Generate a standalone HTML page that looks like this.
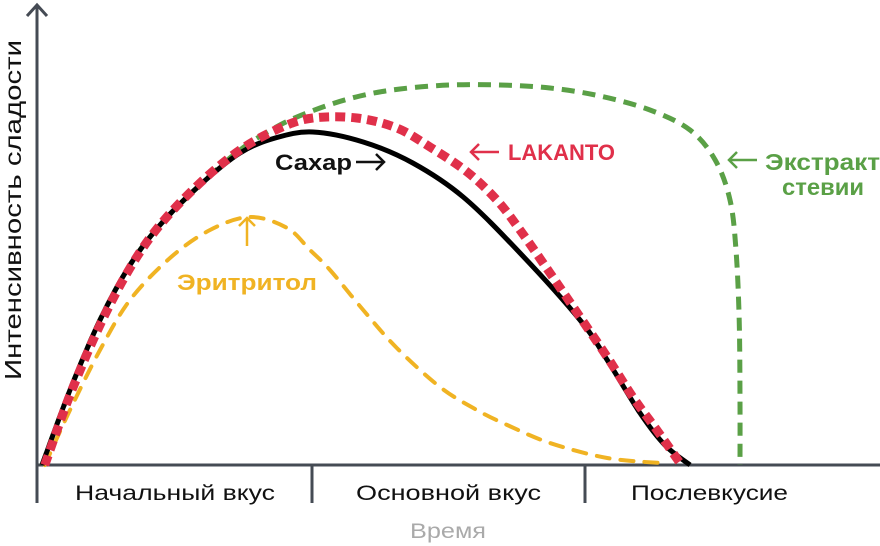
<!DOCTYPE html>
<html><head><meta charset="utf-8"><style>
html,body{margin:0;padding:0;background:#fff;}
svg{display:block;font-family:"Liberation Sans","DejaVu Sans",sans-serif;}
</style></head><body>
<svg id="chart" width="880" height="546" viewBox="0 0 880 546">
<g id="axes">
<line x1="37" y1="465" x2="37" y2="6" stroke="#454b54" stroke-width="3"/>
<polyline points="27,16 37,5 47,16" fill="none" stroke="#454b54" stroke-width="3"/>
<line x1="36" y1="465" x2="880" y2="465" stroke="#454b54" stroke-width="3"/>
<line x1="37" y1="465" x2="37" y2="503" stroke="#454b54" stroke-width="3"/>
<line x1="312" y1="465" x2="312" y2="503" stroke="#454b54" stroke-width="3"/>
<line x1="585" y1="465" x2="585" y2="503" stroke="#454b54" stroke-width="3"/>
<text x="75" y="500" font-size="21" textLength="200" lengthAdjust="spacingAndGlyphs" fill="#111">Начальный вкус</text>
<text x="356" y="500" font-size="21" textLength="185" lengthAdjust="spacingAndGlyphs" fill="#111">Основной вкус</text>
<text x="631" y="500" font-size="21" textLength="157" lengthAdjust="spacingAndGlyphs" fill="#111">Послевкусие</text>
<text x="410" y="538" font-size="21" textLength="76" lengthAdjust="spacingAndGlyphs" fill="#aaa">Время</text>
<text transform="translate(21,380) rotate(-90)" font-size="23" textLength="340" lengthAdjust="spacingAndGlyphs" fill="#111">Интенсивность сладости</text>
</g>
<g id="series"></g>
<g id="labels">
<text x="275" y="170" font-size="22" font-weight="bold" textLength="77" lengthAdjust="spacingAndGlyphs" fill="#111">Сахар</text>
<g fill="none" stroke="#111" stroke-width="2.5"><line x1="356" y1="162" x2="384" y2="162"/><polyline points="376,154 384,162 376,170"/></g>
<g fill="none" stroke="#e0304a" stroke-width="2.5"><line x1="471" y1="152" x2="499" y2="152"/><polyline points="479,144 471,152 479,160"/></g>
<text x="508" y="160" font-size="22" font-weight="bold" textLength="107" lengthAdjust="spacingAndGlyphs" fill="#e0304a">LAKANTO</text>
<g fill="none" stroke="#5aa046" stroke-width="2.5"><line x1="729" y1="160" x2="757" y2="160"/><polyline points="737,152 729,160 737,168"/></g>
<text x="765" y="170" font-size="23" font-weight="bold" textLength="115" lengthAdjust="spacingAndGlyphs" fill="#5aa046">Экстракт</text>
<text x="782" y="195" font-size="23" font-weight="bold" textLength="82" lengthAdjust="spacingAndGlyphs" fill="#5aa046">стевии</text>
<g fill="none" stroke="#f0b323" stroke-width="2.5"><line x1="247" y1="218" x2="247" y2="246"/><polyline points="239,226 247,218 255,226"/></g>
<text x="177" y="290" font-size="22" font-weight="bold" textLength="140" lengthAdjust="spacingAndGlyphs" fill="#f0b323">Эритритол</text>
</g>
</svg>
<script>
const sugarT=[0.25,3.75,7.5,11.25,15,20,25,29.4,34.1,40.4,46.6,52.9,60,67.5,70.9,75,78.1,81.25];
const sugarV=[0,18.75,36.25,50,60,70,78,81.75,83.25,80.75,75.5,67,53,36.25,26.25,13,5,0];
const lakantoT=[0.6,3.75,7.5,11.25,15,20,25,30,34.1,39.6,44.6,48.75,53.4,57.1,60,63.75,67.5,70.9,74.1,77.1,80];
const lakantoV=[0,17.5,35,49.25,60,70.5,78.75,84.25,86.75,86.75,84.25,79.5,73.25,66.25,58.75,48,37,27,17,8.75,0.5];
const steviaT=[0.25,3.75,7.5,11.25,15,20,25,30,35,40,45,51.25,57.5,63.75,70,76.25,81.25,84.4,86.25,87,87.4,87.5,87.5];
const steviaV=[0,18.75,36.25,50,60,70,78.75,85,89.25,92.25,94,95,95,94.25,92.25,88.75,83.75,76.25,66.25,53.75,36.25,16.25,0];
const erythT=[0.6,3.75,7.5,11.25,16.25,21.25,26.25,30.9,33.75,36.25,40.4,44.6,50,54.6,58.4,63.75,70.9,77.5];
const erythV=[0,13.75,28.75,41.25,51.75,58.75,62,59.25,53.75,48.75,38.75,29.25,19.5,13.75,10,5.5,1.75,0.5];
const xs=t=>40+t*8;
const ys=v=>465-v*4;
function pathOf(T,V){
  const p=T.map((t,i)=>[xs(t),ys(V[i])]);
  let d='M'+p[0][0]+','+p[0][1];
  for(let i=0;i<p.length-1;i++){
    const p0=p[Math.max(0,i-1)],p1=p[i],p2=p[i+1],p3=p[Math.min(p.length-1,i+2)];
    const c1=[p1[0]+(p2[0]-p0[0])/6,p1[1]+(p2[1]-p0[1])/6];
    const c2=[p2[0]-(p3[0]-p1[0])/6,p2[1]-(p3[1]-p1[1])/6];
    d+=' C'+c1.join(',')+' '+c2.join(',')+' '+p2.join(',');
  }
  return d;
}
const g=document.getElementById('series');
function add(T,V,stroke,w,dash,name,cap){
  const el=document.createElementNS('http://www.w3.org/2000/svg','path');
  el.setAttribute('d',pathOf(T,V));
  el.setAttribute('fill','none');
  el.setAttribute('stroke',stroke);
  el.setAttribute('stroke-width',w);
  if(dash)el.setAttribute('stroke-dasharray',dash);
  el.setAttribute('stroke-linecap',cap||'butt');
  
  
  g.appendChild(el);
}
add(erythT,erythV,'#f0b323',4,'13 11','erythritol-line','round');
add(steviaT,steviaV,'#5aa046',5,'13 8','stevia-line');
add(sugarT,sugarV,'#000',5,null,'sugar-line');
add(lakantoT,lakantoV,'#e0304a',9,'10 6','lakanto-line');
</script>
</body></html>
